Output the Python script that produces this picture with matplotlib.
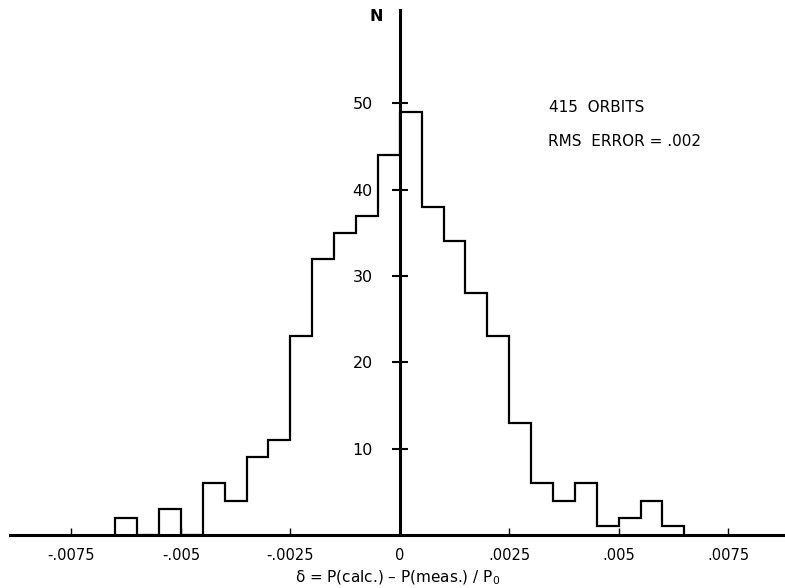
import numpy as np
import matplotlib
matplotlib.use('Agg')
import matplotlib.pyplot as plt

# 26 bins of width .0005 from -.0065 to .0065
bin_edges = np.linspace(-0.0065, 0.0065, 27)
counts = [2, 0, 3, 0, 6, 4, 9, 11, 23, 32, 35, 37, 44,
          49, 38, 34, 28, 23, 13, 6, 4, 6, 1, 2, 4, 1]

x_ticks = [-0.0075, -0.005, -0.0025, 0, 0.0025, 0.005, 0.0075]
x_tick_labels = ['-.0075', '-.005', '-.0025', '0', '.0025', '.005', '.0075']
y_ticks = [10, 20, 30, 40, 50]

fig = plt.figure(figsize=(7.85, 5.88), dpi=100)
ax = fig.add_axes([0.013, 0.090, 0.987, 0.893])

ax.stairs(counts, bin_edges, color='black', linewidth=1.6, baseline=0)

ax.set_xlim(-0.0089, 0.0088)
ax.set_ylim(0, 60.8)

# axes: bottom line and a vertical axis through zero
ax.spines['top'].set_visible(False)
ax.spines['right'].set_visible(False)
ax.spines['left'].set_position(('data', 0))
ax.spines['left'].set_linewidth(2.2)
ax.spines['bottom'].set_linewidth(2.2)
ax.spines['left'].set_zorder(3)

ax.set_xticks(x_ticks)
ax.set_xticklabels(x_tick_labels)
ax.set_yticks(y_ticks)
ax.set_yticklabels([str(v) for v in y_ticks])

ax.tick_params(axis='x', direction='in', length=5, width=1, pad=9, labelsize=10.5)
ax.tick_params(axis='y', direction='inout', length=11, width=1.5, pad=14, labelsize=11.5)

ax.text(-0.00053, 60.0, 'N', ha='center', va='center', fontsize=11.5, fontweight='bold')
ax.text(0.00342, 49.5, '415  ORBITS', ha='left', va='center', fontsize=11)
ax.text(0.00338, 45.6, 'RMS  ERROR = .002', ha='left', va='center', fontsize=11)

ax.set_xlabel('δ = P(calc.) – P(meas.) / P$_0$', fontsize=11, labelpad=4)

fig.savefig('out.png', dpi=100)
